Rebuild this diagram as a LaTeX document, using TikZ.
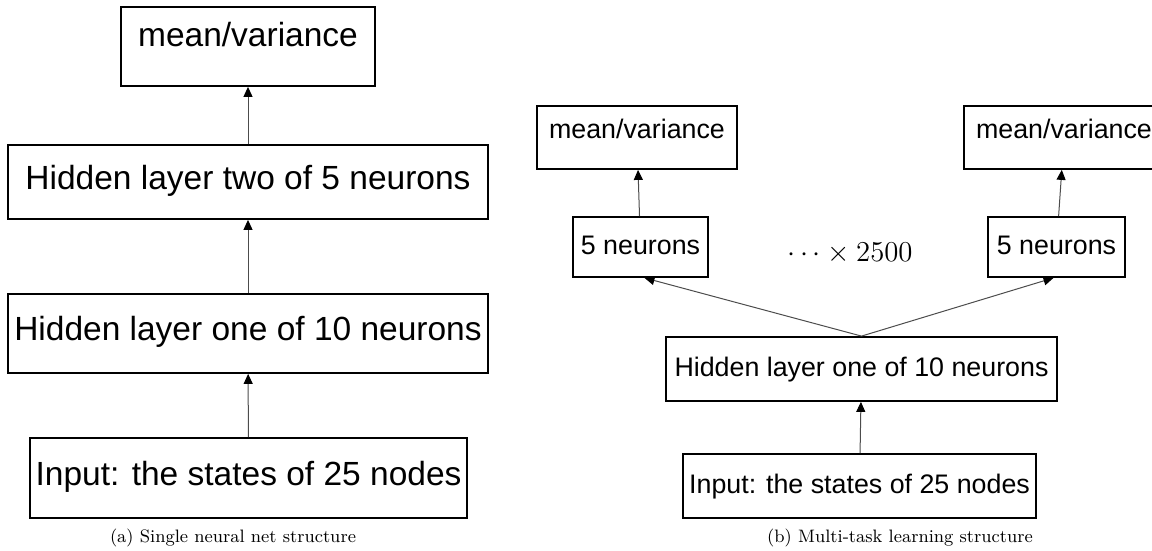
\documentclass[tikz,border=0pt]{standalone}
\usepackage{fontspec}
\setsansfont{Liberation Sans}
\usetikzlibrary{arrows.meta}
\tikzset{
  box/.style={draw, line width=0.9pt, rectangle, inner sep=0pt, font=\sffamily\fontsize{16.75}{20}\selectfont, text height=0.72em, text depth=0pt},
  sbox/.style={box, font=\sffamily\fontsize{13.4}{16}\selectfont},
  link/.style={draw, gray!60!black, line width=0.5pt, -{Triangle[length=5pt,width=4.5pt,black]}},
  subcap/.style={anchor=base, font=\fontsize{9}{11}\selectfont},
}
\begin{document}
\begin{tikzpicture}[x=0.5pt,y=-0.5pt]
\useasboundingbox (0,0) rectangle (1152,551);
\clip (0,0) rectangle (1152,551);
% (a) single net
\begin{scope}
\node[box, minimum width=127pt, minimum height=39.5pt, text depth=7pt] (mv) at (248,46.5) {mean/variance};
\node[box, minimum width=240pt, minimum height=37pt] (h2) at (248,182) {Hidden layer two of 5 neurons};
\node[box, minimum width=240pt, minimum height=39.5pt] (h1) at (248,333.5) {Hidden layer one of 10 neurons};
\node[box, minimum width=218.5pt, minimum height=40pt] (in) at (248.5,478) {Input: the states of 25 nodes};
\path[link] (in) -- (h1);
\path[link] (h1) -- (h2);
\path[link] (h2) -- (mv);
\node[subcap] (capa) at (233,542) {(a) Single neural net structure};
\end{scope}
% (b) multi-task
\begin{scope}
\node[sbox, minimum width=100pt, minimum height=31.5pt, text depth=6pt] (mvl) at (637,137.5) {mean/variance};
\node[sbox, minimum width=100pt, minimum height=31.5pt, text depth=6pt] (mvr) at (1064,137.5) {mean/variance};
\node[sbox, minimum width=67.5pt, minimum height=30pt] (nl) at (640.5,247) {5 neurons};
\node[sbox, minimum width=68.5pt, minimum height=30pt] (nr) at (1056.5,247) {5 neurons};
\node[font=\fontsize{14.5}{17}\selectfont] (dots) at (850,253) {$\cdots\times 2500$};
\node[sbox, minimum width=195.5pt, minimum height=32pt] (hid) at (861.5,369) {Hidden layer one of 10 neurons};
\node[sbox, minimum width=176.5pt, minimum height=32pt] (inp) at (859.5,486) {Input: the states of 25 nodes};
\path[link] (inp) -- (hid);
\path[link] (hid.north) -- ([xshift=2pt]nl.south);
\path[link] (hid.north) -- ([xshift=-1.5pt]nr.south);
\path[link] (nl) -- (mvl);
\path[link] (nr) -- (mvr);
\node[subcap] (capb) at (900,542) {(b) Multi-task learning structure};
\end{scope}
\end{tikzpicture}
\end{document}
